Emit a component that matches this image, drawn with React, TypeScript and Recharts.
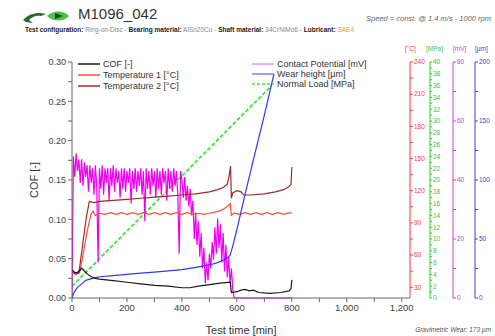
import { ComposedChart, Line, XAxis, YAxis } from "recharts";

const W = 495;
const H = 336;

// [time min, value]
const cof: [number, number][] = [
  [0, 0.036], [8, 0.033], [18, 0.032], [28, 0.035], [36, 0.038], [46, 0.034],
  [58, 0.03], [70, 0.027], [85, 0.025], [100, 0.024], [150, 0.022], [200, 0.02],
  [250, 0.018], [300, 0.016], [350, 0.015], [400, 0.013], [430, 0.013], [460, 0.015],
  [500, 0.017], [540, 0.019], [576, 0.02], [580, 0.007], [600, 0.008], [615, 0.01],
  [630, 0.011], [645, 0.009], [660, 0.01], [680, 0.007], [720, 0.006], [760, 0.007],
  [790, 0.009], [797, 0.012], [800, 0.023],
];

const temp1: [number, number][] = [
  [0, 46], [12, 43], [28, 44], [40, 60], [55, 82], [70, 99], [76, 101], [85, 97],
  [100, 99], [120, 98], [140, 99.5], [160, 98], [180, 99.5], [200, 98], [220, 99.5],
  [240, 98], [260, 99.5], [280, 98], [300, 99.5], [320, 98], [340, 99.5], [360, 98],
  [380, 99.5], [400, 98], [420, 99.5], [440, 98], [460, 99], [480, 98], [500, 99],
  [520, 100], [540, 101.5], [555, 103.5], [568, 106], [576, 108], [580, 97], [590, 99],
  [610, 98], [630, 99.5], [650, 98], [670, 99.5], [690, 98], [710, 99.5], [730, 98],
  [750, 99.5], [770, 98], [790, 99.5], [800, 99],
];

const temp2: [number, number][] = [
  [0, 45], [12, 42], [25, 43], [40, 72], [52, 95], [63, 110], [80, 109], [100, 110],
  [150, 111], [200, 112], [250, 113], [300, 114], [350, 115], [400, 116], [450, 117],
  [500, 119], [530, 121], [550, 123], [565, 126], [572, 134], [577, 143], [580, 113],
  [585, 118], [600, 120], [615, 119], [625, 116], [650, 116], [700, 117], [740, 119],
  [770, 121], [790, 124], [797, 126], [800, 142],
];

// contact potential [mV], one reading every 5 min from t = 0
const CP_STEP = 5;
const contactPotential = [
  0, 48, 41, 49, 43, 47, 39, 47, 38, 46, 41, 45, 36, 45, 39, 44, 35, 45, 38, 12,
  44, 37, 45, 35, 44, 39, 44, 33, 44, 38, 45, 36, 44, 39, 43, 34, 44, 37, 44, 36,
  43, 39, 44, 32, 43, 37, 44, 36, 43, 38, 44, 35, 43, 26, 44, 37, 43, 35, 44, 38,
  43, 34, 44, 37, 43, 35, 44, 39, 43, 33, 44, 37, 43, 36, 44, 38, 43, 35, 15, 43,
  40, 34, 41, 33, 38, 31, 37, 28, 33, 20, 29, 18, 26, 14, 22, 10, 17, 5, 12, 6,
  15, 10, 19, 13, 24, 15, 27, 17, 25, 12, 22, 9, 18, 7, 14, 5, 10, 3, 0,
];
const contactTail: [number, number][] = [[595, 0], [800, 0]];

const wear: [number, number][] = [
  [0, 0], [8, 5], [20, 9], [35, 12], [50, 15], [65, 16], [80, 17], [100, 18],
  [150, 19], [200, 20], [250, 21], [300, 22], [350, 23], [400, 24], [450, 26],
  [500, 28], [530, 30], [550, 32], [565, 34], [575, 36], [585, 44], [600, 58],
  [630, 88], [660, 117], [700, 155], [735, 190],
];

const normalLoad: [number, number][] = [
  [0, 2], [43, 4], [86, 6], [128, 8], [171, 10], [214, 12], [257, 14], [300, 16],
  [342, 18], [385, 20], [428, 22], [470, 24], [513, 26], [556, 28], [598, 30],
  [641, 32], [684, 34], [727, 36],
];

// axis ticks
const timeTicks = [0, 100, 200, 300, 400, 500, 600, 700, 800, 900, 1000, 1100, 1200];
const cofTicks = [0, 0.025, 0.05, 0.075, 0.1, 0.125, 0.15, 0.175, 0.2, 0.225, 0.25, 0.275, 0.3];
const tempTicks = [30, 45, 60, 75, 90, 105, 120, 135, 150, 165, 180, 195, 210, 225, 240];
const loadTicks = [
  0, 1, 2, 3, 4, 5, 6, 7, 8, 9, 10, 11, 12, 13, 14, 15, 16, 17, 18, 19, 20,
  21, 22, 23, 24, 25, 26, 27, 28, 29, 30, 31, 32, 33, 34, 35, 36, 37, 38, 39, 40,
];
const mvTicks = [0, 10, 20, 30, 40, 50, 60, 70, 80];
const wearTicks = [0, 25, 50, 75, 100, 125, 150, 175, 200];

const toPts = (arr: [number, number][]) => arr.map(([t, v]) => ({ t, v }));
const cpData = contactPotential
  .map((v, i) => ({ t: i * CP_STEP, v }))
  .concat(toPts(contactTail));

const FONT = "'Liberation Sans', Arial, sans-serif";

const C = {
  cof: "#1a1a1a",
  t1: "#f4503c",
  t2: "#a02828",
  cp: "#f000f0",
  wear: "#2a3cf0",
  load: "#3ce63c",
  tempAx: "#f03c3c",
  loadAx: "#2ecc2e",
  mvAx: "#d040d0",
  wearAx: "#4040d0",
};

const Logo = () => (
  <svg width={48} height={16} style={{ position: "absolute", left: 22, top: 8 }}>
    <path d="M1 12 C8 5, 16 4, 24 6 L19 8 C14 7, 10 9, 7 12 L11 15 L4 14 Z" fill="#2c6a2c" />
    <path d="M25 8 C31 2, 42 2, 47 8 C42 14, 31 14, 25 8 Z" fill="#4cc04c" />
    <path d="M33 5 L41 8 L33 11 Z" fill="#1e4a1e" />
  </svg>
);

const LegendRow = ({ x, y, color, dash, label }: { x: number; y: number; color: string; dash?: boolean; label: string }) => (
  <div style={{ position: "absolute", left: x, top: y - 6, height: 12, display: "flex", alignItems: "center" }}>
    <svg width={22} height={4} style={{ marginRight: 3 }}>
      <line x1={0} y1={2} x2={22} y2={2} stroke={color} strokeWidth={1.5} strokeDasharray={dash ? "3 2" : undefined} />
    </svg>
    <span style={{ fontSize: 9, color: "#333", whiteSpace: "nowrap" }}>{label}</span>
  </div>
);

const small = (color: string) => ({ fontSize: 6.5, fill: color, fontFamily: FONT });

export default function App() {
  return (
    <div style={{ position: "absolute", left: 0, top: 0, width: W, height: H, background: "#fff", fontFamily: FONT, overflow: "hidden" }}>
      <Logo />
      <div style={{ position: "absolute", left: 78, top: 5, fontSize: 15, color: "#333" }}>M1096_042</div>
      <div style={{ position: "absolute", right: 4, top: 14, fontSize: 7.5, fontStyle: "italic", color: "#666" }}>
        Speed = const. @ 1.4 m/s - 1000 rpm
      </div>
      <div style={{ position: "absolute", left: 25, top: 26, fontSize: 6.5, color: "#888", whiteSpace: "nowrap" }}>
        <b style={{ color: "#222" }}>Test configuration:</b> Ring-on-Disc - <b style={{ color: "#222" }}>Bearing material:</b> AlSn20Cu -{" "}
        <b style={{ color: "#222" }}>Shaft material:</b> 34CrNiMo6 - <b style={{ color: "#222" }}>Lubricant:</b>{" "}
        <span style={{ color: "#f0a020" }}>SAE4</span>
      </div>

      {/* unit labels above the right axes */}
      <div style={{ position: "absolute", left: 405, top: 45, fontSize: 6.5, color: C.tempAx }}>[°C]</div>
      <div style={{ position: "absolute", left: 426, top: 45, fontSize: 6.5, color: C.loadAx }}>[MPa]</div>
      <div style={{ position: "absolute", left: 453, top: 45, fontSize: 6.5, color: C.mvAx }}>[mV]</div>
      <div style={{ position: "absolute", left: 475, top: 45, fontSize: 6.5, color: C.wearAx }}>[µm]</div>

      <ComposedChart width={W} height={H} margin={{ top: 62, right: 0, bottom: 0, left: 0 }} style={{ position: "absolute", left: 0, top: 0 }}>
        <XAxis
          dataKey="t"
          type="number"
          domain={[0, 1230]}
          ticks={timeTicks}
          interval={0}
          allowDataOverflow
          height={38}
          tickSize={4}
          stroke="#666"
          tick={{ fontSize: 9.5, fill: "#444", fontFamily: FONT }}
          tickFormatter={(v: number) => (v % 200 === 0 ? v.toLocaleString("en-US") : "")}
          label={{ value: "Test time [min]", position: "insideBottom", offset: 2, fontSize: 11, fill: "#333", fontFamily: FONT }}
        />
        <YAxis
          yAxisId="a_cof"
          orientation="left"
          width={72}
          domain={[0, 0.3]}
          ticks={cofTicks}
          interval={0}
          tickSize={4}
          stroke="#666"
          tick={{ fontSize: 9, fill: "#444", fontFamily: FONT }}
          tickFormatter={(v: number) => (Math.round(v * 1000) % 50 === 0 ? v.toFixed(2) : "")}
          label={{ value: "COF [-]", angle: -90, position: "center", dx: -2, fontSize: 11, fill: "#333", fontFamily: FONT }}
        />
        <YAxis
          yAxisId="r1_temp"
          orientation="right"
          width={20}
          domain={[20, 240]}
          ticks={tempTicks}
          interval={0}
          tickSize={3}
          tickMargin={1}
          stroke={C.tempAx}
          tick={small(C.tempAx)}
          tickFormatter={(v: number) => (v % 30 === 0 ? String(v) : "")}
        />
        <YAxis
          yAxisId="r2_load"
          orientation="right"
          width={23}
          domain={[0, 40]}
          ticks={loadTicks}
          interval={0}
          tickSize={2}
          tickMargin={1}
          stroke={C.loadAx}
          tick={small(C.loadAx)}
          tickFormatter={(v: number) => (v % 2 === 0 ? String(v) : "")}
        />
        <YAxis
          yAxisId="r3_mv"
          orientation="right"
          width={22}
          domain={[0, 80]}
          ticks={mvTicks}
          interval={0}
          tickSize={3}
          tickMargin={1}
          stroke={C.mvAx}
          tick={small(C.mvAx)}
          tickFormatter={(v: number) => (v % 20 === 0 ? String(v) : "")}
        />
        <YAxis
          yAxisId="r4_wear"
          orientation="right"
          width={20}
          domain={[0, 200]}
          ticks={wearTicks}
          interval={0}
          tickSize={3}
          tickMargin={1}
          stroke={C.wearAx}
          tick={small(C.wearAx)}
          tickFormatter={(v: number) => (v % 50 === 0 ? String(v) : "")}
        />

        <Line yAxisId="r2_load" data={toPts(normalLoad)} dataKey="v" stroke={C.load} strokeWidth={1.8} strokeDasharray="4 2" dot={false} isAnimationActive={false} />
        <Line yAxisId="r3_mv" data={cpData} dataKey="v" stroke={C.cp} strokeWidth={1.2} dot={false} isAnimationActive={false} />
        <Line yAxisId="r1_temp" data={toPts(temp1)} dataKey="v" stroke={C.t1} strokeWidth={1.2} dot={false} isAnimationActive={false} />
        <Line yAxisId="r1_temp" data={toPts(temp2)} dataKey="v" stroke={C.t2} strokeWidth={1.2} dot={false} isAnimationActive={false} />
        <Line yAxisId="r4_wear" data={toPts(wear)} dataKey="v" stroke={C.wear} strokeWidth={1.2} dot={false} isAnimationActive={false} />
        <Line yAxisId="a_cof" data={toPts(cof)} dataKey="v" stroke={C.cof} strokeWidth={1.2} dot={false} isAnimationActive={false} />
      </ComposedChart>

      <LegendRow x={78} y={64} color={C.cof} label="COF [-]" />
      <LegendRow x={78} y={75} color={C.t1} label="Temperature 1 [°C]" />
      <LegendRow x={78} y={86} color={C.t2} label="Temperature 2 [°C]" />
      <LegendRow x={252} y={64} color="#f090f0" label="Contact Potential [mV]" />
      <LegendRow x={252} y={74} color="#8080f0" label="Wear height [µm]" />
      <LegendRow x={252} y={84} color={C.load} dash label="Normal Load [MPa]" />

      <div style={{ position: "absolute", right: 4, top: 326, fontSize: 6.5, fontStyle: "italic", color: "#555" }}>
        Gravimetric Wear: 173 µm
      </div>
    </div>
  );
}
